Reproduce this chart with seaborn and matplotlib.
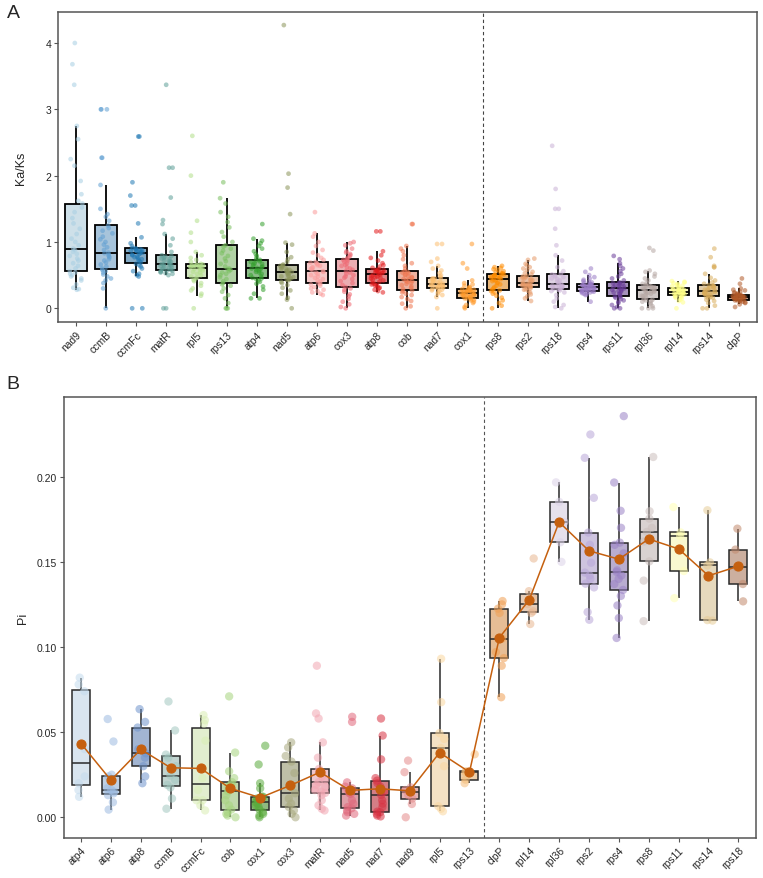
import numpy as np
import pandas as pd
import matplotlib
matplotlib.use("Agg")
import matplotlib.pyplot as plt
import seaborn as sns

# ---------------- Panel A data: Ka/Ks ----------------
ka_genes = ["nad9", "ccmB", "ccmFc", "matR", "rpl5", "rps13", "atp4", "nad5", "atp6", "cox3",
            "atp8", "cob", "nad7", "cox1", "rps8", "rps2", "rps18", "rps4", "rps11", "rpl36",
            "rpl14", "rps14", "clpP"]
ka_colors = ["#a6cee3", "#5f9fd2", "#1f78b4", "#5e9f98", "#b2df8a", "#78bf5e", "#33a02c", "#8c955a",
             "#fb9a99", "#ef6872", "#e31a1c", "#f0764f", "#fdbf6f", "#ff9a2a", "#ff8c00", "#e79a68",
             "#cab2d6", "#9a7cc6", "#6a3d9a", "#b5a6a2", "#ffff88", "#d9ad5c", "#b15928"]

ka_nad9 = [0.28, 0.29, 0.31, 0.36, 0.42, 0.45, 0.48, 0.50, 0.52, 0.54, 0.56, 0.60, 0.64, 0.68, 0.72, 0.75, 0.79, 0.82, 0.85, 0.88, 0.90,
           0.95, 1.00, 1.05, 1.12, 1.20, 1.28, 1.36, 1.45, 1.52, 1.58, 1.62, 1.72, 1.92, 2.15, 2.25, 2.55, 2.75, 3.37, 3.68, 4.00]
ka_ccmB = [0.00, 0.30, 0.38, 0.42, 0.45, 0.48, 0.51, 0.54, 0.56, 0.58, 0.60, 0.63, 0.66, 0.69, 0.72, 0.74, 0.77, 0.79, 0.81, 0.83, 0.84,
           0.88, 0.92, 0.96, 1.00, 1.04, 1.08, 1.13, 1.17, 1.21, 1.25, 1.32, 1.38, 1.42, 1.50, 1.86, 2.27, 2.27, 3.00, 3.00, 3.00]
ka_ccmFc = [0.00, 0.00, 0.48, 0.50, 0.52, 0.56, 0.60, 0.63, 0.65, 0.67, 0.69, 0.71, 0.73, 0.74, 0.76, 0.77, 0.78, 0.80, 0.81, 0.82, 0.83,
            0.84, 0.85, 0.86, 0.87, 0.87, 0.88, 0.89, 0.90, 0.90, 0.91, 0.94, 0.98, 1.07, 1.28, 1.55, 1.55, 1.70, 1.90, 2.59, 2.59]
ka_matR = [0.00, 0.00, 0.50, 0.52, 0.53, 0.54, 0.55, 0.56, 0.57, 0.57, 0.58, 0.59, 0.60, 0.61, 0.62, 0.63, 0.64, 0.65, 0.66, 0.66, 0.67,
           0.68, 0.70, 0.71, 0.72, 0.74, 0.75, 0.76, 0.78, 0.79, 0.80, 0.85, 0.95, 1.05, 1.12, 1.27, 1.33, 1.67, 2.12, 2.12, 3.37]
ka_rpl5 = [0.00, 0.19, 0.22, 0.27, 0.30, 0.34, 0.38, 0.41, 0.43, 0.45, 0.46, 0.48, 0.50, 0.52, 0.54, 0.55, 0.57, 0.58, 0.59, 0.60, 0.61,
           0.62, 0.62, 0.63, 0.64, 0.64, 0.65, 0.65, 0.66, 0.66, 0.67, 0.70, 0.73, 0.76, 0.80, 0.85, 1.00, 1.14, 1.32, 2.00, 2.60]
ka_rps13 = [0.00, 0.00, 0.00, 0.08, 0.15, 0.20, 0.25, 0.30, 0.34, 0.36, 0.38, 0.41, 0.44, 0.47, 0.50, 0.52, 0.54, 0.56, 0.58, 0.59, 0.60,
            0.63, 0.67, 0.71, 0.75, 0.79, 0.83, 0.87, 0.90, 0.93, 0.95, 1.00, 1.08, 1.15, 1.22, 1.30, 1.38, 1.45, 1.58, 1.66, 1.90]
ka_atp4 = [0.15, 0.15, 0.22, 0.28, 0.33, 0.37, 0.40, 0.42, 0.44, 0.45, 0.46, 0.48, 0.50, 0.52, 0.54, 0.55, 0.57, 0.58, 0.59, 0.60, 0.61,
           0.62, 0.63, 0.65, 0.66, 0.67, 0.68, 0.70, 0.71, 0.72, 0.73, 0.76, 0.79, 0.82, 0.86, 0.90, 0.94, 0.98, 1.02, 1.05, 1.27]
ka_nad5 = [0.00, 0.13, 0.16, 0.22, 0.27, 0.31, 0.35, 0.38, 0.40, 0.42, 0.43, 0.44, 0.45, 0.47, 0.48, 0.49, 0.50, 0.52, 0.53, 0.54, 0.55,
           0.56, 0.57, 0.58, 0.59, 0.60, 0.61, 0.63, 0.64, 0.65, 0.66, 0.70, 0.74, 0.77, 0.85, 0.96, 0.99, 1.42, 1.82, 2.03, 4.27]
ka_atp6 = [0.20, 0.22, 0.24, 0.26, 0.28, 0.30, 0.32, 0.34, 0.36, 0.37, 0.38, 0.40, 0.42, 0.44, 0.46, 0.48, 0.50, 0.52, 0.54, 0.55, 0.56,
           0.58, 0.59, 0.61, 0.62, 0.64, 0.65, 0.67, 0.68, 0.69, 0.70, 0.73, 0.76, 0.80, 0.84, 0.88, 0.94, 1.00, 1.08, 1.13, 1.45]
ka_cox3 = [0.00, 0.02, 0.06, 0.10, 0.14, 0.18, 0.21, 0.25, 0.28, 0.30, 0.32, 0.35, 0.38, 0.41, 0.44, 0.46, 0.48, 0.50, 0.52, 0.54, 0.56,
           0.58, 0.60, 0.62, 0.64, 0.66, 0.68, 0.70, 0.72, 0.73, 0.74, 0.76, 0.78, 0.80, 0.82, 0.84, 0.86, 0.90, 0.95, 0.98, 1.00]
ka_atp8 = [0.24, 0.26, 0.28, 0.30, 0.31, 0.33, 0.34, 0.35, 0.36, 0.37, 0.38, 0.40, 0.42, 0.43, 0.45, 0.46, 0.47, 0.48, 0.49, 0.50, 0.51,
           0.52, 0.53, 0.54, 0.55, 0.55, 0.56, 0.57, 0.58, 0.58, 0.59, 0.61, 0.63, 0.65, 0.68, 0.72, 0.76, 0.80, 0.86, 1.16, 1.16]
ka_cob = [0.00, 0.03, 0.07, 0.11, 0.14, 0.17, 0.20, 0.22, 0.24, 0.26, 0.27, 0.29, 0.31, 0.33, 0.35, 0.37, 0.38, 0.40, 0.41, 0.42, 0.43,
          0.44, 0.46, 0.47, 0.48, 0.50, 0.51, 0.53, 0.54, 0.55, 0.56, 0.60, 0.64, 0.68, 0.74, 0.80, 0.86, 0.90, 0.94, 1.27, 1.27]
ka_nad7 = [0.00, 0.17, 0.20, 0.22, 0.24, 0.26, 0.27, 0.28, 0.29, 0.30, 0.31, 0.32, 0.32, 0.33, 0.33, 0.34, 0.35, 0.35, 0.36, 0.36, 0.37,
           0.38, 0.39, 0.40, 0.41, 0.42, 0.43, 0.44, 0.45, 0.45, 0.46, 0.48, 0.50, 0.53, 0.57, 0.60, 0.64, 0.70, 0.75, 0.97, 0.97]
ka_cox1 = [0.00, 0.02, 0.05, 0.08, 0.10, 0.12, 0.13, 0.14, 0.15, 0.15, 0.16, 0.17, 0.18, 0.18, 0.19, 0.20, 0.20, 0.21, 0.22, 0.22, 0.23,
           0.24, 0.24, 0.25, 0.25, 0.26, 0.27, 0.27, 0.28, 0.28, 0.29, 0.30, 0.31, 0.32, 0.34, 0.36, 0.38, 0.42, 0.60, 0.68, 0.97]
ka_rps8 = [0.00, 0.04, 0.08, 0.12, 0.16, 0.19, 0.22, 0.24, 0.26, 0.27, 0.28, 0.30, 0.32, 0.34, 0.36, 0.38, 0.39, 0.41, 0.42, 0.43, 0.44,
           0.45, 0.46, 0.47, 0.47, 0.48, 0.49, 0.49, 0.50, 0.50, 0.51, 0.52, 0.53, 0.54, 0.55, 0.56, 0.58, 0.59, 0.61, 0.62, 0.64]
ka_rps2 = [0.11, 0.15, 0.18, 0.21, 0.24, 0.26, 0.28, 0.29, 0.30, 0.31, 0.32, 0.33, 0.33, 0.34, 0.34, 0.35, 0.36, 0.36, 0.37, 0.37, 0.38,
           0.39, 0.40, 0.42, 0.43, 0.44, 0.45, 0.46, 0.47, 0.48, 0.49, 0.51, 0.53, 0.55, 0.58, 0.60, 0.62, 0.65, 0.67, 0.73, 0.75]
ka_rps18 = [0.00, 0.02, 0.05, 0.10, 0.15, 0.20, 0.24, 0.26, 0.27, 0.28, 0.29, 0.30, 0.31, 0.31, 0.32, 0.33, 0.33, 0.34, 0.35, 0.35, 0.36,
            0.38, 0.40, 0.42, 0.44, 0.45, 0.47, 0.48, 0.50, 0.51, 0.52, 0.56, 0.62, 0.72, 0.80, 0.95, 1.20, 1.50, 1.50, 1.80, 2.45]
ka_rps4 = [0.10, 0.20, 0.21, 0.22, 0.23, 0.24, 0.24, 0.25, 0.25, 0.26, 0.26, 0.27, 0.27, 0.28, 0.28, 0.29, 0.30, 0.30, 0.31, 0.31, 0.32,
           0.32, 0.33, 0.33, 0.34, 0.34, 0.35, 0.35, 0.36, 0.36, 0.37, 0.38, 0.39, 0.40, 0.41, 0.43, 0.45, 0.47, 0.50, 0.55, 0.60]
ka_rps11 = [0.00, 0.00, 0.02, 0.05, 0.08, 0.10, 0.12, 0.14, 0.16, 0.17, 0.18, 0.19, 0.21, 0.22, 0.24, 0.25, 0.26, 0.27, 0.28, 0.29, 0.30,
            0.31, 0.32, 0.33, 0.34, 0.35, 0.36, 0.37, 0.38, 0.38, 0.39, 0.42, 0.45, 0.48, 0.52, 0.56, 0.60, 0.64, 0.68, 0.74, 0.79]
ka_rpl36 = [0.00, 0.00, 0.00, 0.03, 0.06, 0.08, 0.10, 0.11, 0.12, 0.13, 0.14, 0.16, 0.18, 0.19, 0.21, 0.22, 0.23, 0.24, 0.25, 0.26, 0.27,
            0.28, 0.29, 0.30, 0.30, 0.31, 0.32, 0.33, 0.34, 0.34, 0.35, 0.37, 0.39, 0.42, 0.45, 0.48, 0.52, 0.55, 0.57, 0.87, 0.91]
ka_rpl14 = [0.00, 0.09, 0.11, 0.13, 0.15, 0.16, 0.17, 0.18, 0.19, 0.19, 0.20, 0.21, 0.21, 0.22, 0.22, 0.23, 0.23, 0.24, 0.24, 0.25, 0.25,
            0.26, 0.26, 0.27, 0.28, 0.28, 0.29, 0.29, 0.30, 0.30, 0.31, 0.32, 0.33, 0.34, 0.35, 0.36, 0.37, 0.38, 0.39, 0.40, 0.41]
ka_rps14 = [0.00, 0.00, 0.04, 0.08, 0.11, 0.13, 0.15, 0.16, 0.17, 0.18, 0.19, 0.20, 0.21, 0.22, 0.22, 0.23, 0.24, 0.24, 0.25, 0.25, 0.26,
            0.27, 0.28, 0.29, 0.30, 0.31, 0.32, 0.33, 0.34, 0.34, 0.35, 0.37, 0.39, 0.42, 0.46, 0.52, 0.62, 0.62, 0.64, 0.77, 0.90]
ka_clpP = [0.02, 0.06, 0.08, 0.09, 0.10, 0.11, 0.11, 0.12, 0.12, 0.13, 0.13, 0.14, 0.14, 0.15, 0.15, 0.15, 0.16, 0.16, 0.16, 0.17, 0.17,
           0.17, 0.18, 0.18, 0.18, 0.19, 0.19, 0.19, 0.20, 0.20, 0.20, 0.21, 0.22, 0.23, 0.24, 0.25, 0.27, 0.28, 0.30, 0.37, 0.45]

ka_values = [ka_nad9, ka_ccmB, ka_ccmFc, ka_matR, ka_rpl5, ka_rps13, ka_atp4, ka_nad5, ka_atp6, ka_cox3,
             ka_atp8, ka_cob, ka_nad7, ka_cox1, ka_rps8, ka_rps2, ka_rps18, ka_rps4, ka_rps11, ka_rpl36,
             ka_rpl14, ka_rps14, ka_clpP]
ka_yticks = [0, 1, 2, 3, 4]

# ---------------- Panel B data: Pi ----------------
pi_genes = ["atp4", "atp6", "atp8", "ccmB", "ccmFc", "cob", "cox1", "cox3", "matR", "nad5", "nad7", "nad9",
            "rpl5", "rps13", "clpP", "rpl14", "rpl36", "rps2", "rps4", "rps8", "rps11", "rps14", "rps18"]
pi_colors = ["#c4dbee", "#9dbbe0", "#6f94cc", "#a2c8c0", "#d9eeb4", "#a6d47e", "#5aab3c", "#a8a97e",
             "#f2a6b2", "#e0677a", "#d83242", "#e58c8c", "#fbd7a0", "#f5bd78", "#f0a054", "#e8b690",
             "#dcd2e8", "#b8a6d8", "#9a82c6", "#cbbebc", "#ffffb4", "#e6cc98", "#c28a6c"]

pi_atp4 = [0.012, 0.016, 0.020, 0.024, 0.040, 0.074, 0.078, 0.082]
pi_atp6 = [0.0045, 0.0088, 0.013, 0.014, 0.015, 0.016, 0.017, 0.024, 0.025, 0.0445, 0.0577]
pi_atp8 = [0.020, 0.024, 0.030, 0.035, 0.0376, 0.040, 0.0527, 0.056, 0.0635]
pi_ccmB = [0.005, 0.011, 0.0175, 0.019, 0.022, 0.0245, 0.030, 0.035, 0.0368, 0.051, 0.068]
pi_ccmFc = [0.004, 0.007, 0.010, 0.010, 0.016, 0.023, 0.045, 0.055, 0.057, 0.060]
pi_cob = [0.0, 0.001, 0.002, 0.003, 0.0045, 0.007, 0.010, 0.013, 0.0153, 0.016, 0.018, 0.019, 0.0206,
          0.023, 0.027, 0.038, 0.071]
pi_cox1 = [0.0, 0.001, 0.002, 0.003, 0.0045, 0.006, 0.007, 0.008, 0.0088, 0.010, 0.011, 0.012, 0.0121,
           0.017, 0.020, 0.031, 0.042]
pi_cox3 = [0.0, 0.002, 0.004, 0.0061, 0.008, 0.011, 0.0141, 0.018, 0.026, 0.0327, 0.036, 0.041, 0.044]
pi_matR = [0.004, 0.005, 0.007, 0.010, 0.013, 0.0143, 0.015, 0.016, 0.018, 0.019, 0.0206, 0.022, 0.024,
           0.026, 0.027, 0.0284, 0.035, 0.044, 0.058, 0.061, 0.089]
pi_nad5 = [0.001, 0.002, 0.003, 0.004, 0.0053, 0.006, 0.008, 0.010, 0.0137, 0.014, 0.015, 0.016, 0.017,
           0.018, 0.0205, 0.056, 0.059]
pi_nad7 = [0.0005, 0.001, 0.002, 0.003, 0.0033, 0.006, 0.008, 0.010, 0.0131, 0.015, 0.018, 0.020, 0.0215,
           0.023, 0.034, 0.048, 0.058]
pi_nad9 = [0.0, 0.0078, 0.011, 0.013, 0.0147, 0.016, 0.0176, 0.0265, 0.0333]
pi_rpl5 = [0.0035, 0.005, 0.0065, 0.030, 0.0407, 0.046, 0.0494, 0.0676, 0.0931]
pi_rps13 = [0.020, 0.0221, 0.0265, 0.027, 0.037]
pi_clpP = [0.0705, 0.089, 0.0935, 0.097, 0.1048, 0.120, 0.1225, 0.125, 0.127]
pi_rpl14 = [0.1135, 0.120, 0.121, 0.1252, 0.129, 0.1328, 0.152]
pi_rpl36 = [0.150, 0.1615, 0.1734, 0.1852, 0.1967]
pi_rps2 = [0.116, 0.1205, 0.135, 0.1372, 0.140, 0.142, 0.1437, 0.1495, 0.160, 0.1672, 0.1876, 0.2111, 0.2248]
pi_rps4 = [0.1053, 0.117, 0.1244, 0.130, 0.1335, 0.137, 0.140, 0.142, 0.1441, 0.145, 0.155, 0.160, 0.1613,
           0.170, 0.180, 0.1966, 0.2356]
pi_rps8 = [0.1152, 0.139, 0.1503, 0.162, 0.1676, 0.170, 0.1754, 0.1797, 0.2116]
pi_rps11 = [0.1287, 0.1446, 0.1652, 0.1673, 0.1822]
pi_rps14 = [0.1155, 0.1158, 0.1479, 0.1497, 0.1803]
pi_rps18 = [0.1268, 0.137, 0.1468, 0.1572, 0.1695]

pi_values = [pi_atp4, pi_atp6, pi_atp8, pi_ccmB, pi_ccmFc, pi_cob, pi_cox1, pi_cox3, pi_matR, pi_nad5,
             pi_nad7, pi_nad9, pi_rpl5, pi_rps13, pi_clpP, pi_rpl14, pi_rpl36, pi_rps2, pi_rps4, pi_rps8,
             pi_rps11, pi_rps14, pi_rps18]
pi_yticks = [0.00, 0.05, 0.10, 0.15, 0.20]

# ---------------- build long tables ----------------
df_a = pd.DataFrame({"gene": [g for g, v in zip(ka_genes, ka_values) for _ in v],
                     "value": [x for v in ka_values for x in v]})
df_b = pd.DataFrame({"gene": [g for g, v in zip(pi_genes, pi_values) for _ in v],
                     "value": [x for v in pi_values for x in v]})

sns.set_style("white")
plt.rcParams["font.family"] = ["Liberation Sans", "DejaVu Sans"]
np.random.seed(3)

W, H = 763, 879
fig = plt.figure(figsize=(W / 100, H / 100), dpi=100)

def frac_axes(left, top, right, bottom):
    return fig.add_axes([left / W, 1 - bottom / H, (right - left) / W, (bottom - top) / H])

axA = frac_axes(58.3, 12.7, 756.7, 323.3)
axB = frac_axes(64.0, 397.7, 756.0, 838.7)

# ---------- Panel A ----------
pal_a = dict(zip(ka_genes, ka_colors))
sns.boxplot(data=df_a, x="gene", y="value", hue="gene", order=ka_genes, hue_order=ka_genes,
            palette=pal_a, dodge=False, legend=False, showfliers=False, showcaps=False,
            width=0.72, linewidth=1.3, linecolor="black", ax=axA)
for p in axA.patches:
    fc = p.get_facecolor()
    p.set_facecolor((fc[0], fc[1], fc[2], 0.6))
sns.stripplot(data=df_a, x="gene", y="value", hue="gene", order=ka_genes, hue_order=ka_genes,
              palette=pal_a, dodge=False, legend=False, jitter=0.22, size=3.4, alpha=0.55,
              linewidth=0, ax=axA, zorder=3)
axA.axvline(13.5, color="#444444", lw=0.8, ls=(0, (3, 2.5)), zorder=1)
axA.set_xlim(-0.59, 22.6)
axA.set_ylim(-0.211, 4.472)
axA.set_yticks(ka_yticks)
axA.set_yticklabels([str(t) for t in ka_yticks])
axA.set_xlabel("")
axA.set_ylabel("Ka/Ks", fontsize=9)
axA.yaxis.set_label_coords((27 - 58.3) / (756.7 - 58.3), 0.5)

# ---------- Panel B ----------
pal_b = dict(zip(pi_genes, pi_colors))
sns.boxplot(data=df_b, x="gene", y="value", hue="gene", order=pi_genes, hue_order=pi_genes,
            palette=pal_b, dodge=False, legend=False, showfliers=False, showcaps=False,
            width=0.6, linewidth=1.1, linecolor="#2a2a2a", ax=axB)
for p in axB.patches:
    fc = p.get_facecolor()
    p.set_facecolor((fc[0], fc[1], fc[2], 0.7))
sns.stripplot(data=df_b, x="gene", y="value", hue="gene", order=pi_genes, hue_order=pi_genes,
              palette=pal_b, dodge=False, legend=False, jitter=0.18, size=6.0, alpha=0.55,
              linewidth=0, ax=axB, zorder=3)
sns.pointplot(data=df_b, x="gene", y="value", order=pi_genes, estimator="mean", errorbar=None,
              color="#c5600f", markersize=6.5, linewidth=1.1, ax=axB, zorder=5)
axB.axvline(13.5, color="#555555", lw=0.8, ls=(0, (3, 2.5)), zorder=1)
axB.set_xlim(-0.57, 22.59)
axB.set_ylim(-0.0120, 0.2470)
axB.set_yticks(pi_yticks)
axB.set_yticklabels([f"{t:.2f}" for t in pi_yticks])
axB.set_xlabel("")
axB.set_ylabel("Pi", fontsize=9)
axB.yaxis.set_label_coords((29 - 64) / (756 - 64), 0.5)

for ax in (axA, axB):
    for s in ax.spines.values():
        s.set_color("#555555")
        s.set_linewidth(1.1)
    ax.tick_params(axis="both", which="major", direction="out", length=3, width=0.8,
                   color="#555555", labelsize=7.5, pad=2, bottom=True, left=True)
    for lab in ax.get_xticklabels():
        lab.set_rotation(45)
        lab.set_ha("right")
        lab.set_rotation_mode("anchor")

fig.text(13 / W, 1 - 14 / H, "A", fontsize=14, ha="center", va="center")
fig.text(13 / W, 1 - 385 / H, "B", fontsize=14, ha="center", va="center")

fig.savefig("out.png", dpi=100)
